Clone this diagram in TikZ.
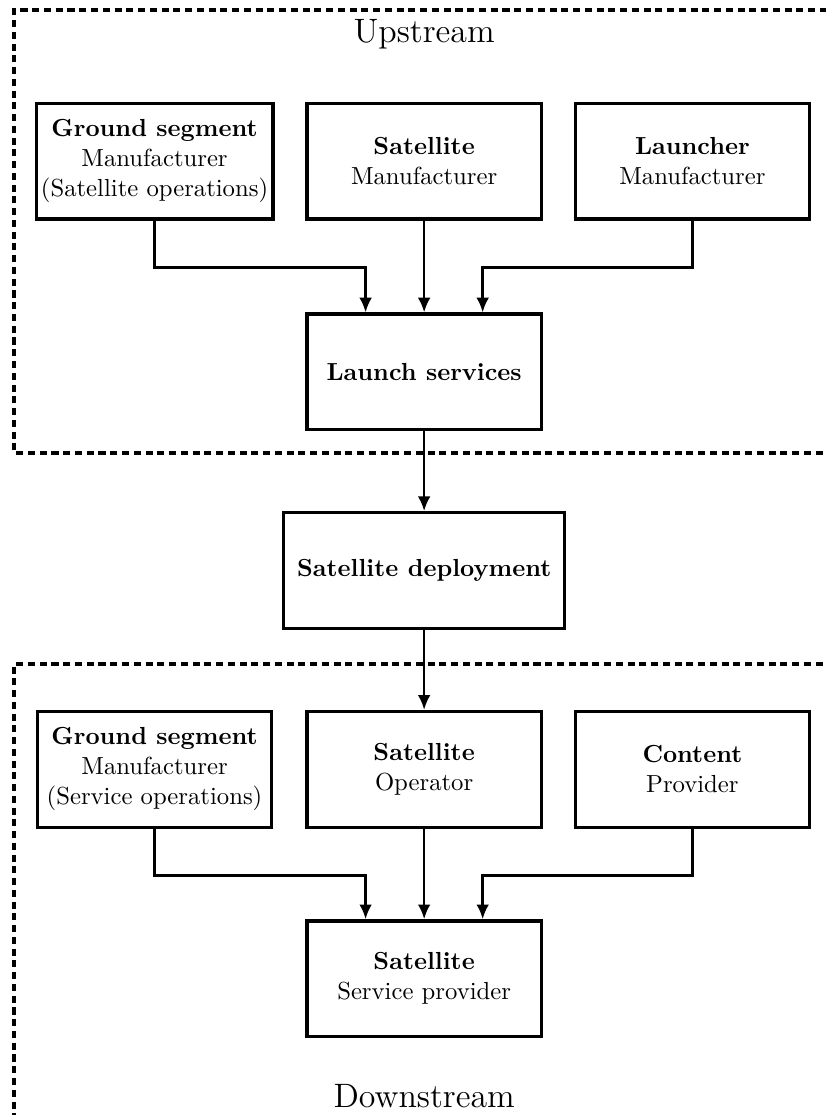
\documentclass[tikz,border=0pt]{standalone}
\usepackage{tikz}
\usetikzlibrary{arrows.meta,positioning,calc}
\tikzset{
  stagebox/.style={draw, line width=1.4pt, minimum width=3.5cm, minimum height=1.73cm,
    align=center, inner sep=2pt, font=\fontsize{10.5pt}{12.8pt}\selectfont},
  flowln/.style={-{Latex[length=2.2mm,width=1.9mm]}, line width=1.1pt},
  regionln/.style={dash pattern=on 3pt off 2pt, line width=1.4pt},
  regionlbl/.style={font=\Large, anchor=base},
}

\begin{document}
\begin{tikzpicture}
    \clip (0,-16.667) rectangle (12.347,0);
    % --- upstream ---
    \draw[regionln] (13,-6.77) -- (0.21,-6.77) -- (0.21,-0.15) -- (13,-0.15);
    \node[regionlbl] (uplbl) at (6.34,-0.64) {Upstream};
    \node[stagebox] (gsup) at (2.31,-2.41)
      {\textbf{Ground segment}\\Manufacturer\\(Satellite operations)};
    \node[stagebox] (satman) at (6.34,-2.41) {\textbf{Satellite}\\Manufacturer};
    \node[stagebox] (lchman) at (10.35,-2.41) {\textbf{Launcher}\\Manufacturer};
    \node[stagebox] (launch) at (6.34,-5.56) {\textbf{Launch services}};
    \draw[flowln] (gsup.south) -- ++(0,-0.7) -| ([xshift=-0.875cm]launch.north);
    \draw[flowln] (satman.south) -- (launch.north);
    \draw[flowln] (lchman.south) -- ++(0,-0.7) -| ([xshift=0.875cm]launch.north);
    % --- deployment ---
    \node[stagebox, minimum width=4.2cm] (deploy) at (6.34,-8.53)
      {\textbf{Satellite deployment}};
    \draw[flowln] (launch.south) -- (deploy.north);
    % --- downstream ---
    \draw[regionln] (13,-9.925) -- (0.21,-9.925) -- (0.21,-17);
    \node[stagebox] (gsdown) at (2.31,-11.50)
      {\textbf{Ground segment}\\Manufacturer\\(Service operations)};
    \node[stagebox] (satop) at (6.34,-11.50) {\textbf{Satellite}\\Operator};
    \node[stagebox] (content) at (10.35,-11.50) {\textbf{Content}\\Provider};
    \node[stagebox] (provider) at (6.34,-14.63) {\textbf{Satellite}\\Service provider};
    \draw[flowln] (deploy.south) -- (satop.north);
    \draw[flowln] (gsdown.south) -- ++(0,-0.7) -| ([xshift=-0.875cm]provider.north);
    \draw[flowln] (satop.south) -- (provider.north);
    \draw[flowln] (content.south) -- ++(0,-0.7) -| ([xshift=0.875cm]provider.north);
    \node[regionlbl] (downlbl) at (6.34,-16.55) {Downstream};
\end{tikzpicture}
\end{document}
